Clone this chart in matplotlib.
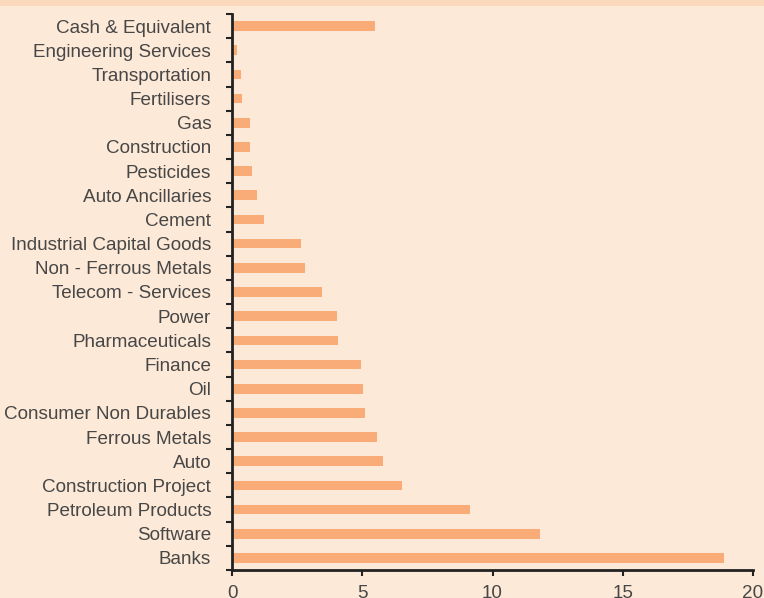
import matplotlib
matplotlib.use("Agg")
import matplotlib.pyplot as plt
from matplotlib.patches import Rectangle
import numpy as np

# sector allocation (% of net assets), top of chart first
sectors = ["Cash & Equivalent", "Engineering Services", "Transportation", "Fertilisers",
           "Gas", "Construction", "Pesticides", "Auto Ancillaries", "Cement",
           "Industrial Capital Goods", "Non - Ferrous Metals", "Telecom - Services",
           "Power", "Pharmaceuticals", "Finance", "Oil", "Consumer Non Durables",
           "Ferrous Metals", "Auto", "Construction Project", "Petroleum Products",
           "Software", "Banks"]
weights = [5.48, 0.18, 0.33, 0.37, 0.68, 0.71, 0.75, 0.95, 1.21, 2.64, 2.79, 3.44,
           4.02, 4.06, 4.95, 5.02, 5.10, 5.56, 5.79, 6.52, 9.14, 11.82, 18.87]
xticks = [0, 5, 10, 15, 20]

bg = "#fde9d7"
plt.rcParams['font.family'] = ['Liberation Sans', 'DejaVu Sans']

fig = plt.figure(figsize=(7.64, 5.98), dpi=100, facecolor=bg)
fig.patches.append(Rectangle((0, 1 - 6/598), 1, 6/598, transform=fig.transFigure,
                             facecolor="#fcd9bd", edgecolor="none"))
ax = fig.add_axes([232/764, 28/598, (753-232)/764, (570-14)/598])
ax.set_facecolor(bg)

n = len(sectors)
ypos = np.arange(n)[::-1]
ax.barh(ypos, weights, height=0.4, color="#f9ab78")

ax.set_xlim(0, 20)
ax.set_ylim(-0.5, n - 0.5)
ax.set_xticks(xticks)
ax.set_yticks(ypos)
ax.set_yticklabels(sectors, va="center_baseline")
ax.set_yticks(np.arange(n + 1) - 0.5, minor=True)

for s in ["top", "right"]:
    ax.spines[s].set_visible(False)
for s in ["left", "bottom"]:
    ax.spines[s].set_linewidth(2)
    ax.spines[s].set_color("#222222")

ax.tick_params(axis="y", which="major", length=0, pad=15, labelsize=13.6, labelcolor="#474747")
ax.tick_params(axis="y", which="minor", length=4, width=1.5, color="#222222")
ax.tick_params(axis="x", length=4, width=1.5, color="#222222", pad=7,
               labelsize=13.6, labelcolor="#474747")

plt.savefig("out.png", dpi=100, facecolor=bg)
